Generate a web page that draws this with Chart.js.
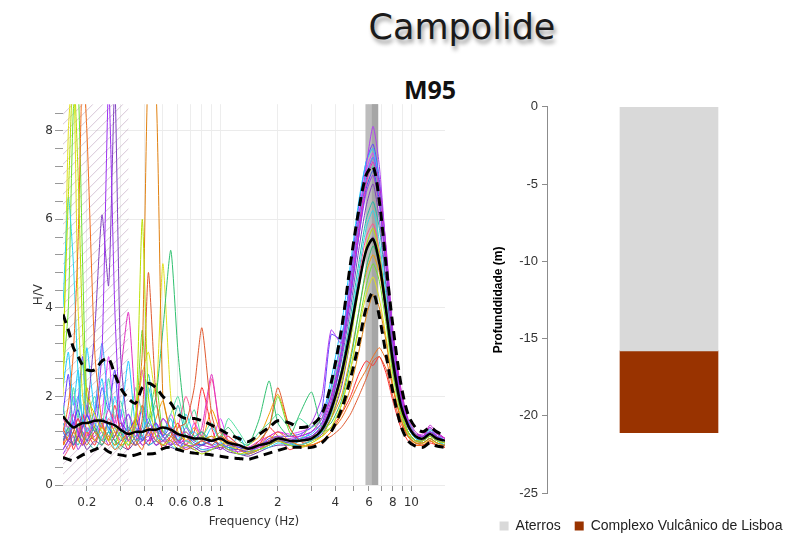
<!DOCTYPE html>
<html>
<head>
<meta charset="utf-8">
<script src="https://cdn.jsdelivr.net/npm/chart.js@4/dist/chart.umd.min.js"></script>
<style>
  html, body { margin: 0; padding: 0; background: #fff; }
  body { width: 803px; height: 533px; position: relative; overflow: hidden; }
  #title {
    position: absolute; left: 312px; top: 10px; width: 300px; text-align: center;
    font: 35px/1 "DejaVu Sans", sans-serif; color: #1a1a1a;
    text-shadow: 2px 4px 4px rgba(0, 0, 0, 0.4);
  }
  #sub {
    position: absolute; left: 404px; top: 77px;
    font: bold 25px/1 "Open Sans", sans-serif; color: #111;
  }
  #hv { position: absolute; left: 0; top: 95px; width: 460px; height: 438px; }
  #prof { position: absolute; left: 470px; top: 95px; width: 342px; height: 438px; }
</style>
</head>
<body>
<div id="title">Campolide</div>
<div id="sub">M95</div>
<div id="hv"><canvas id="ch-hv"></canvas></div>
<div id="prof"><canvas id="ch-prof"></canvas></div>
<script>
  // frequency grid (Hz) shared by all H/V curves
  const freqs = [0.15, 0.16, 0.17, 0.18, 0.19, 0.2, 0.22, 0.24, 0.26, 0.28, 0.3, 0.33, 0.36, 0.39, 0.42, 0.46, 0.5, 0.55, 0.6, 0.66,
    0.73, 0.8, 0.9, 1.0, 1.1, 1.25, 1.4, 1.6, 1.8, 2.0, 2.3, 2.6, 3.0, 3.4, 3.8, 4.3, 4.8, 5.3, 5.8, 6.3,
    6.8, 7.4, 8.0, 8.8, 9.6, 10.5, 11.5, 12.5, 13.6, 15];

  const hvMean = [1.55, 1.4, 1.3, 1.35, 1.4, 1.4, 1.45, 1.45, 1.4, 1.35, 1.25, 1.15, 1.2, 1.2, 1.25, 1.25, 1.3, 1.25, 1.15, 1.1,
    1.05, 1.05, 1.0, 1.05, 0.95, 0.9, 0.82, 0.9, 0.95, 1.05, 1.0, 1.0, 1.05, 1.25, 1.7, 2.5, 3.5, 4.5, 5.3, 5.55,
    5.0, 3.9, 2.8, 1.8, 1.35, 1.1, 1.05, 1.15, 1.05, 1.0];
  const hvUpper = [3.85, 3.5, 3.1, 2.9, 2.7, 2.6, 2.6, 2.8, 2.85, 2.5, 2.2, 1.95, 1.85, 2.2, 2.3, 2.2, 2.0, 1.85, 1.6, 1.5,
    1.5, 1.45, 1.35, 1.25, 1.15, 1.05, 0.98, 1.15, 1.3, 1.45, 1.4, 1.3, 1.35, 1.6, 2.3, 3.5, 5.0, 6.2, 7.0, 7.2,
    6.4, 4.9, 3.6, 2.3, 1.6, 1.3, 1.2, 1.3, 1.2, 1.1];
  const hvLower = [0.62, 0.58, 0.55, 0.62, 0.68, 0.72, 0.8, 0.85, 0.75, 0.7, 0.68, 0.65, 0.68, 0.72, 0.7, 0.72, 0.82, 0.85, 0.8, 0.75,
    0.72, 0.7, 0.68, 0.65, 0.62, 0.6, 0.58, 0.65, 0.72, 0.78, 0.85, 0.85, 0.85, 0.95, 1.2, 1.7, 2.4, 3.2, 4.0, 4.35,
    3.8, 2.9, 2.1, 1.35, 1.0, 0.88, 0.85, 0.95, 0.88, 0.85];

  // individual time windows
  const winColors = ["#b8e000", "#f07020", "#9b30f0", "#8040c0", "#30d8e8", "#e08010", "#e05a30", "#30c070", "#e0e020",
    "#e030c0", "#3050f0", "#b040f0", "#20b8a8", "#ff5090", "#40a8ff", "#70e030", "#c020d0", "#7030a0",
    "#50e0a0", "#ff3030", "#20c8ff", "#f0a000", "#6040ff", "#e040ff"];
  const win01 = [3.0, 6.5, 9.5, 7.0, 3.5, 2.0, 1.6, 1.2, 1.0, 1.3, 1.1, 0.9, 1.4, 6.0, 2.0, 1.1, 0.9, 1.0, 0.8, 0.9, 0.8, 0.7, 0.8, 0.9, 0.8, 0.7, 0.75, 0.8, 0.9, 1.0, 0.9, 0.85, 0.95, 1.1, 1.5, 2.3, 3.3, 4.4, 5.4, 5.8, 5.2, 4.0, 2.8, 1.7, 1.2, 1.0, 1.0, 1.1, 1.0, 0.95];
  const win02 = [1.2, 1.8, 3.0, 5.5, 9.5, 8.0, 3.0, 1.4, 1.0, 0.8, 0.9, 1.2, 1.0, 0.8, 1.3, 1.0, 0.9, 1.1, 0.9, 0.8, 0.9, 1.0, 0.9, 1.1, 1.0, 0.8, 0.7, 0.8, 1.0, 1.2, 1.0, 0.9, 0.9, 1.0, 1.2, 1.5, 1.9, 2.3, 2.6, 2.9, 3.1, 2.8, 2.2, 1.5, 1.1, 0.9, 0.9, 1.0, 0.9, 0.9];
  const win03 = [0.8, 1.0, 1.4, 1.2, 0.9, 1.0, 1.5, 3.0, 9.0, 4.0, 1.5, 1.0, 1.2, 0.9, 1.0, 1.4, 1.1, 0.9, 1.0, 0.8, 0.9, 1.0, 0.9, 0.8, 0.9, 0.9, 0.8, 0.9, 1.0, 1.1, 1.0, 1.1, 1.2, 1.4, 2.0, 3.0, 4.3, 5.6, 6.6, 7.0, 6.3, 4.8, 3.2, 2.0, 1.4, 1.1, 1.1, 1.2, 1.1, 1.0];
  const win04 = [1.0, 1.2, 0.9, 1.1, 1.3, 1.6, 3.5, 6.1, 4.5, 9.0, 3.0, 1.2, 0.9, 1.0, 1.2, 0.9, 1.0, 1.2, 1.0, 0.9, 0.8, 0.9, 1.0, 0.9, 0.8, 0.8, 0.75, 0.9, 1.0, 1.0, 0.95, 1.0, 1.1, 1.3, 1.8, 2.8, 4.0, 5.3, 6.3, 6.8, 6.0, 4.5, 3.0, 1.9, 1.3, 1.1, 1.0, 1.2, 1.1, 1.0];
  const win05 = [4.0, 6.5, 5.0, 2.5, 1.5, 1.2, 1.4, 1.0, 1.2, 0.8, 1.0, 1.3, 1.0, 1.1, 0.9, 1.0, 1.1, 0.9, 0.8, 1.0, 0.9, 0.8, 0.8, 0.9, 0.8, 0.7, 0.7, 0.8, 0.85, 0.95, 0.9, 0.9, 1.0, 1.2, 1.6, 2.5, 3.6, 4.8, 5.8, 6.2, 5.5, 4.2, 2.9, 1.8, 1.3, 1.05, 1.0, 1.1, 1.0, 0.9];
  const win06 = [0.9, 1.1, 1.3, 1.0, 0.9, 1.2, 1.0, 1.3, 1.1, 0.9, 1.0, 1.2, 1.5, 3.0, 9.5, 9.0, 2.0, 1.2, 1.0, 1.1, 0.9, 1.0, 1.1, 0.9, 1.0, 0.9, 0.8, 0.9, 1.1, 1.0, 0.9, 0.85, 0.9, 1.0, 1.2, 1.6, 2.2, 3.0, 3.8, 4.3, 4.0, 3.2, 2.2, 1.5, 1.1, 0.95, 0.95, 1.05, 0.95, 0.9];
  const win07 = [1.3, 1.0, 1.2, 1.5, 1.1, 0.9, 1.2, 1.0, 0.9, 1.1, 1.4, 1.0, 0.9, 1.5, 4.8, 2.0, 1.1, 1.0, 1.3, 1.4, 2.2, 3.55, 1.6, 1.0, 1.1, 0.9, 0.8, 1.0, 1.3, 2.2, 1.3, 1.0, 0.9, 1.0, 1.1, 1.3, 1.6, 2.0, 2.4, 2.8, 2.9, 2.6, 2.0, 1.4, 1.1, 0.95, 0.9, 1.0, 0.9, 0.85];
  const win08 = [1.0, 1.2, 0.9, 1.4, 1.1, 1.0, 1.3, 0.9, 1.2, 1.0, 0.8, 1.1, 0.9, 1.2, 1.4, 2.0, 3.5, 5.3, 3.0, 1.4, 1.1, 1.2, 1.0, 1.1, 1.3, 1.0, 0.9, 1.5, 2.35, 1.4, 1.1, 1.6, 2.1, 1.3, 1.4, 1.9, 2.8, 3.9, 4.9, 5.4, 5.0, 3.9, 2.7, 1.7, 1.2, 1.0, 1.0, 1.1, 1.0, 0.9];
  const win09 = [2.0, 8.0, 9.5, 4.0, 2.0, 1.5, 1.0, 1.3, 1.0, 1.2, 0.9, 1.0, 1.6, 2.5, 3.0, 2.0, 5.0, 2.0, 1.2, 1.0, 0.9, 1.0, 1.1, 1.0, 0.9, 0.8, 0.8, 0.9, 1.0, 1.1, 1.0, 0.9, 1.0, 1.1, 1.3, 1.8, 2.6, 3.5, 4.3, 4.7, 4.2, 3.3, 2.3, 1.5, 1.1, 0.95, 0.95, 1.0, 0.95, 0.9];
  const win10 = [1.5, 1.3, 1.6, 1.2, 1.4, 1.1, 1.5, 1.3, 1.7, 1.4, 2.5, 3.9, 1.8, 1.2, 1.4, 1.2, 1.5, 1.3, 1.1, 1.2, 1.0, 1.3, 2.5, 1.2, 1.1, 0.9, 0.85, 1.0, 1.1, 1.2, 1.1, 1.1, 1.2, 1.5, 2.0, 3.0, 4.3, 5.7, 6.8, 7.3, 6.6, 5.0, 3.3, 2.1, 1.4, 1.15, 1.1, 1.3, 1.15, 1.05];
  const win11 = [1.2, 1.0, 1.4, 1.7, 1.3, 1.6, 1.2, 1.5, 1.3, 1.1, 1.4, 1.2, 1.5, 1.0, 1.2, 1.4, 1.1, 1.3, 1.0, 1.1, 0.95, 0.9, 1.0, 1.05, 0.9, 0.85, 0.8, 0.9, 1.0, 1.1, 1.0, 1.0, 1.1, 1.3, 1.8, 2.9, 4.2, 5.6, 6.7, 7.1, 6.4, 4.9, 3.3, 2.0, 1.4, 1.1, 1.05, 1.2, 1.1, 1.0];
  const win12 = [0.7, 0.9, 1.1, 0.8, 1.0, 1.3, 1.0, 1.2, 0.9, 1.1, 1.3, 1.6, 1.2, 1.0, 1.1, 0.9, 1.0, 0.95, 0.9, 0.85, 0.9, 0.8, 0.85, 0.9, 0.8, 0.75, 0.8, 0.85, 0.95, 1.0, 1.05, 1.1, 1.4, 2.0, 3.5, 3.2, 4.6, 6.0, 7.2, 8.1, 7.2, 5.2, 3.4, 2.1, 1.4, 1.1, 1.1, 1.3, 1.1, 1.0];
  const win13 = [1.0, 1.3, 1.1, 0.9, 1.2, 1.0, 0.8, 1.1, 1.4, 1.0, 1.2, 0.9, 1.1, 1.3, 2.5, 1.3, 1.0, 1.2, 1.8, 1.1, 1.0, 0.9, 1.0, 0.9, 0.85, 0.8, 0.7, 0.8, 0.9, 1.0, 0.95, 0.9, 1.0, 1.2, 1.7, 2.6, 3.8, 5.0, 6.0, 6.4, 5.8, 4.4, 3.0, 1.9, 1.3, 1.05, 1.0, 1.15, 1.05, 0.95];
  const win14 = [0.6, 0.8, 1.0, 1.3, 0.9, 1.1, 1.3, 1.0, 1.5, 1.2, 1.0, 1.3, 1.1, 0.9, 1.0, 1.2, 1.0, 0.9, 1.3, 2.0, 1.4, 1.1, 2.4, 1.3, 1.0, 0.9, 0.8, 0.85, 0.9, 1.0, 1.0, 1.0, 1.05, 1.2, 1.6, 2.4, 3.5, 4.7, 5.6, 5.9, 5.3, 4.0, 2.7, 1.7, 1.2, 1.0, 1.0, 1.1, 1.0, 0.95];
  const win15 = [1.4, 1.1, 1.6, 2.0, 1.5, 1.2, 1.7, 3.2, 1.8, 1.3, 1.1, 1.3, 1.0, 1.2, 1.5, 1.1, 1.0, 0.9, 1.0, 1.1, 1.2, 1.0, 0.9, 0.95, 0.85, 0.8, 0.75, 0.85, 0.95, 1.05, 1.0, 1.05, 1.15, 1.4, 2.2, 3.3, 4.6, 6.0, 7.0, 7.4, 6.6, 5.0, 3.3, 2.0, 1.35, 1.1, 1.05, 1.25, 1.1, 1.0];
  const win16 = [2.5, 4.0, 8.5, 9.0, 5.0, 2.0, 1.2, 1.0, 1.1, 0.9, 1.2, 1.0, 1.4, 3.5, 1.5, 2.3, 1.2, 1.1, 1.0, 1.2, 1.0, 1.1, 1.0, 1.2, 1.0, 0.9, 0.8, 1.0, 1.3, 2.0, 1.2, 1.0, 1.4, 1.2, 1.3, 1.8, 2.6, 3.6, 4.5, 5.0, 4.6, 3.6, 2.5, 1.6, 1.15, 0.95, 0.95, 1.05, 0.95, 0.9];
  const win17 = [1.1, 1.0, 1.2, 1.5, 1.2, 1.0, 1.1, 1.3, 1.0, 1.2, 1.0, 1.1, 1.3, 1.1, 1.0, 1.1, 1.2, 1.0, 0.95, 1.0, 0.9, 0.9, 0.85, 0.9, 0.85, 0.8, 0.75, 0.8, 0.9, 1.0, 1.0, 1.05, 1.1, 1.35, 1.9, 3.0, 4.4, 5.8, 6.9, 7.4, 6.8, 5.3, 3.5, 2.2, 1.5, 1.2, 1.1, 1.35, 1.2, 1.05];
  const win18 = [0.8, 1.0, 0.9, 1.1, 1.0, 0.8, 1.0, 0.9, 1.2, 1.0, 0.9, 0.8, 1.0, 1.1, 0.9, 1.0, 0.9, 0.85, 0.8, 0.9, 0.85, 0.75, 0.8, 0.85, 0.75, 0.7, 0.65, 0.75, 0.85, 0.9, 0.9, 0.9, 1.0, 1.15, 1.5, 2.2, 3.3, 4.5, 5.3, 5.6, 5.0, 3.8, 2.6, 1.7, 1.2, 1.0, 0.95, 1.05, 0.95, 0.9];
  const win19 = [1.8, 1.2, 2.2, 1.5, 2.8, 1.6, 2.0, 1.3, 2.4, 1.5, 1.9, 1.2, 2.2, 1.6, 1.3, 1.8, 1.2, 1.6, 2.0, 1.3, 1.7, 1.1, 1.4, 1.0, 1.5, 1.2, 0.9, 1.2, 1.4, 1.6, 1.3, 1.5, 1.3, 1.5, 2.1, 3.1, 4.5, 5.9, 6.9, 7.2, 6.5, 4.9, 3.2, 2.0, 1.4, 1.15, 1.1, 1.25, 1.1, 1.0];
  const win20 = [0.9, 1.3, 0.8, 1.1, 1.6, 1.2, 0.9, 1.4, 1.0, 1.8, 1.2, 0.8, 1.5, 1.1, 0.9, 1.3, 0.8, 1.1, 1.4, 0.9, 1.2, 2.2, 1.3, 0.8, 1.0, 0.7, 0.7, 0.9, 1.3, 1.1, 0.8, 0.9, 1.0, 1.1, 1.3, 1.6, 2.0, 2.5, 2.8, 2.7, 2.9, 2.5, 1.9, 1.3, 1.0, 0.9, 0.9, 0.95, 0.9, 0.85];
  const win21 = [2.2, 3.0, 1.8, 2.6, 1.4, 3.1, 1.7, 2.4, 1.2, 2.0, 1.5, 2.8, 1.3, 1.0, 2.2, 1.4, 1.1, 1.5, 1.0, 1.6, 1.1, 0.9, 1.3, 1.0, 0.8, 1.1, 0.75, 0.8, 1.0, 1.1, 0.9, 1.0, 1.2, 1.5, 2.4, 3.6, 5.0, 6.4, 7.3, 7.6, 6.8, 5.1, 3.4, 2.1, 1.45, 1.15, 1.1, 1.3, 1.15, 1.0];
  const win22 = [1.0, 0.8, 1.2, 1.0, 1.5, 2.2, 1.3, 1.0, 1.4, 1.2, 0.9, 1.0, 1.3, 1.8, 1.1, 1.5, 1.9, 1.2, 1.4, 1.0, 1.3, 1.0, 1.7, 1.2, 0.9, 0.8, 0.9, 1.1, 1.6, 2.05, 1.3, 1.0, 1.1, 1.2, 1.5, 2.0, 2.9, 3.9, 4.8, 5.2, 4.8, 3.8, 2.6, 1.7, 1.2, 1.0, 1.0, 1.1, 1.0, 0.95];
  const win23 = [1.6, 2.5, 1.3, 1.9, 2.9, 1.6, 1.3, 2.2, 1.7, 2.6, 1.2, 1.6, 1.0, 1.8, 1.3, 1.0, 1.5, 1.2, 0.9, 1.3, 1.0, 1.2, 0.9, 1.1, 0.9, 0.8, 0.85, 0.9, 1.05, 1.1, 1.1, 1.15, 1.3, 1.7, 3.4, 3.3, 4.8, 6.3, 7.3, 7.7, 6.9, 5.2, 3.4, 2.1, 1.45, 1.15, 1.1, 1.3, 1.15, 1.05];
  const win24 = [1.2, 1.5, 2.0, 1.1, 1.3, 1.8, 1.0, 1.6, 2.9, 1.3, 1.7, 1.0, 1.4, 2.6, 1.2, 0.9, 1.1, 1.6, 1.2, 0.9, 1.4, 1.1, 1.0, 1.5, 1.0, 0.85, 0.8, 0.95, 1.1, 1.2, 1.15, 1.2, 1.3, 1.6, 2.2, 3.2, 4.6, 6.1, 7.1, 7.5, 6.7, 5.1, 3.4, 2.1, 1.45, 1.15, 1.15, 1.3, 1.15, 1.05];
  const windows = [win01, win02, win03, win04, win05, win06, win07, win08, win09, win10, win11, win12,
    win13, win14, win15, win16, win17, win18, win19, win20, win21, win22, win23, win24];

  const xTicks = [0.2, 0.3, 0.4, 0.5, 0.6, 0.7, 0.8, 0.9, 1, 2, 3, 4, 5, 6, 7, 8, 9, 10];
  const xLabels = [0.2, 0.4, 0.6, 0.8, 1, 2, 4, 6, 8, 10];
  const yTicks = [0, 0.4, 0.8, 1.2, 1.6, 2, 2.4, 2.8, 3.2, 3.6, 4, 4.4, 4.8, 5.2, 5.6, 6, 6.4, 6.8, 7.2, 7.6, 8, 8.4];
  const peakBand = [5.75, 6.7];
  const hatchUntil = 0.33;

  // soil column
  const layers = ["Aterros", "Complexo Vulcânico de Lisboa"];
  const layerThickness = [-15.8, -5.3];
  const layerColors = ["#d9d9d9", "#993300"];

  const pts = (vals) => vals.map((v, i) => ({ x: freqs[i], y: v }));
  const tickFont = { family: "DejaVu Sans", size: 12 };
  const isMajor = (v) => Math.abs(v / 2 - Math.round(v / 2)) < 1e-6;

  const backdrop = {
    id: "backdrop",
    beforeDatasetsDraw(chart) {
      const { ctx, chartArea: a, scales } = chart;
      const x = scales.x;
      ctx.save();
      ctx.beginPath();
      ctx.rect(a.left, a.top, x.getPixelForValue(hatchUntil) - a.left, a.bottom - a.top);
      ctx.clip();
      ctx.strokeStyle = "rgba(190, 160, 190, 0.6)";
      ctx.lineWidth = 1;
      for (let s = a.left - (a.bottom - a.top); s < a.right; s += 10) {
        ctx.beginPath();
        ctx.moveTo(s, a.bottom);
        ctx.lineTo(s + (a.bottom - a.top), a.top);
        ctx.stroke();
      }
      ctx.restore();
      const b0 = x.getPixelForValue(peakBand[0]);
      const b1 = x.getPixelForValue(peakBand[1]);
      const bm = x.getPixelForValue(Math.sqrt(peakBand[0] * peakBand[1]));
      ctx.fillStyle = "#bdbdbd";
      ctx.fillRect(b0, a.top, b1 - b0, a.bottom - a.top);
      ctx.fillStyle = "#a6a6a6";
      ctx.fillRect(bm, a.top, b1 - bm, a.bottom - a.top);
    },
  };

  const hvSets = windows.map((w, i) => ({
    data: pts(w),
    borderColor: winColors[i],
    borderWidth: 1,
    tension: 0.2,
    pointRadius: 0,
    order: 2,
  }));
  hvSets.push(
    { data: pts(hvMean), borderColor: "#000", borderWidth: 2.5, tension: 0.3, pointRadius: 0, order: 0 },
    { data: pts(hvUpper), borderColor: "#000", borderWidth: 3, borderDash: [9, 6], tension: 0.3, pointRadius: 0, order: 0 },
    { data: pts(hvLower), borderColor: "#000", borderWidth: 3, borderDash: [9, 6], tension: 0.3, pointRadius: 0, order: 0 }
  );

  new Chart(document.getElementById("ch-hv"), {
    type: "line",
    data: { datasets: hvSets },
    plugins: [backdrop],
    options: {
      responsive: true,
      maintainAspectRatio: false,
      animation: false,
      layout: { padding: { top: 8, right: 15, left: 32, bottom: 0 } },
      plugins: { legend: { display: false }, tooltip: { enabled: false } },
      scales: {
        x: {
          type: "logarithmic",
          min: 0.15,
          max: 15,
          afterBuildTicks: (s) => { s.ticks = xTicks.map((v) => ({ value: v })); },
          afterFit: (s) => { s.height = 48; },
          ticks: {
            autoSkip: false, maxRotation: 0, color: "#333", font: tickFont, padding: 5,
            callback: (v) => (xLabels.includes(v) ? String(v) : ""),
          },
          grid: { color: "#ededed", tickColor: "#999", tickLength: 6 },
          border: { display: false },
          title: { display: true, text: "Frequency (Hz)", color: "#333", font: tickFont, padding: { top: 3 } },
        },
        y: {
          min: 0,
          max: 8.6,
          afterBuildTicks: (s) => { s.ticks = yTicks.map((v) => ({ value: v })); },
          afterFit: (s) => { s.width = 31; },
          ticks: {
            autoSkip: false, color: "#333", font: tickFont, padding: 2,
            callback: (v) => (isMajor(v) ? String(v) : ""),
          },
          grid: {
            color: (c) => (isMajor(c.tick.value) ? "#ebebeb" : "rgba(0,0,0,0)"),
            tickColor: "#999",
            tickLength: 8,
          },
          border: { display: false },
          title: { display: true, text: "H/V", color: "#333", font: tickFont, padding: 0 },
        },
      },
    },
  });

  new Chart(document.getElementById("ch-prof"), {
    type: "bar",
    data: {
      labels: [""],
      datasets: layers.map((name, i) => ({
        label: name,
        data: [layerThickness[i]],
        backgroundColor: layerColors[i],
        barThickness: 98,
      })),
    },
    options: {
      responsive: true,
      maintainAspectRatio: false,
      animation: false,
      layout: { padding: { top: 10, right: 0, left: 0, bottom: -10 } },
      plugins: {
        tooltip: { enabled: false },
        legend: {
          position: "bottom",
          labels: {
            boxWidth: 9, boxHeight: 9, padding: 14, color: "#222",
            font: { family: "Liberation Sans", size: 14 },
          },
        },
      },
      scales: {
        x: {
          stacked: true,
          ticks: { display: false },
          grid: { display: false },
          border: { display: false },
          afterFit: (s) => { s.height = 12; },
        },
        y: {
          stacked: true,
          min: -25,
          max: 0,
          afterFit: (s) => { s.width = 77; },
          ticks: { stepSize: 5, color: "#333", font: { family: "Liberation Sans", size: 13 }, padding: 4 },
          grid: { drawOnChartArea: false, tickColor: "#8c8c8c", tickLength: 5 },
          border: { color: "#8c8c8c", width: 1 },
          title: {
            display: true, text: "Profunddidade (m)", color: "#000",
            font: { family: "Liberation Sans", size: 12, weight: "bold" }, padding: { top: 21, bottom: 4 },
          },
        },
        // empty right-hand axis that only reserves space so the bar sits where the original has it
        y2: {
          position: "right",
          min: -25,
          max: 0,
          ticks: { display: false },
          grid: { display: false },
          border: { display: false },
          afterFit: (s) => { s.width = 21; },
        },
      },
    },
  });
</script>
</body>
</html>
